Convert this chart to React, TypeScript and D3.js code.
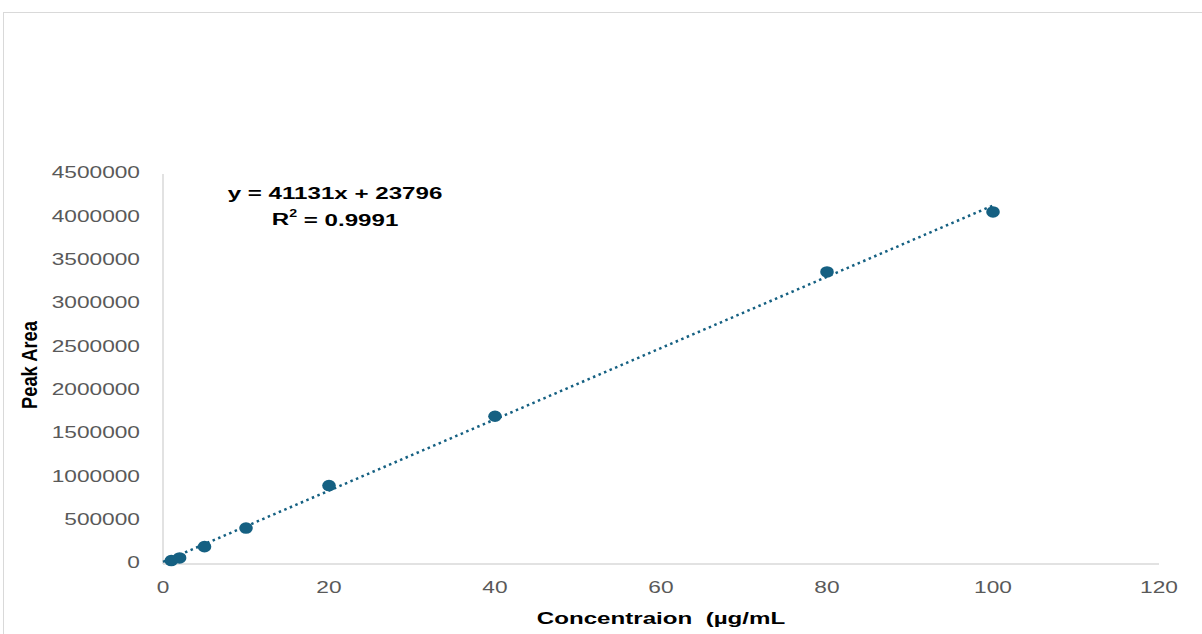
import React from "react";
import * as d3 from "d3";

const concentrations = [1, 2, 5, 10, 20, 40, 80, 100];
const peakAreas = [40000, 70000, 200000, 415000, 905000, 1705000, 3370000, 4062000];
const xTicks = [0, 20, 40, 60, 80, 100, 120];
const yTicks = [0, 500000, 1000000, 1500000, 2000000, 2500000, 3000000, 3500000, 4000000, 4500000];
const slope = 41131;
const intercept = 23796;
const equationText = "y = 41131x + 23796";
const r2Value = "0.9991";
const xTitle = "Concentraion  (µg/mL";
const yTitle = "Peak Area";

const W = 1202;
const H = 634;
const SX = 1.42;
const BLUE = "#156082";
const FONT = "'Liberation Sans', Arial, sans-serif";

function S({ x, y, anchor = "middle", size = 16, weight = "normal", fill = "#595959", children }: any) {
  return (
    <g transform={`translate(${x},${y}) scale(${SX},1)`}>
      <text
        textAnchor={anchor}
        dominantBaseline="middle"
        fontSize={size}
        fontWeight={weight}
        fill={fill}
        fontFamily={FONT}
        style={{ whiteSpace: "pre" }}
      >
        {children}
      </text>
    </g>
  );
}

export default function App() {
  const x = d3.scaleLinear().domain([0, 120]).range([163, 1159]);
  const y = d3.scaleLinear().domain([0, 4500000]).range([564, 174]);
  const line = d3
    .line<number>()
    .x((d) => x(d))
    .y((d) => y(slope * d + intercept));
  const trend = line([0, 100]) || "";

  return (
    <svg width={W} height={H} style={{ position: "absolute", left: 0, top: 0, background: "#fff" }}>
      <rect x={3.5} y={12.5} width={W + 10} height={H + 10} fill="#fff" stroke="#d9d9d9" strokeWidth={1} />
      <line x1={x(0)} x2={x(0)} y1={y(4500000)} y2={y(0)} stroke="#d9d9d9" strokeWidth={1.5} />
      <line x1={x(0)} x2={x(120)} y1={y(0)} y2={y(0)} stroke="#d9d9d9" strokeWidth={1.5} />
      {yTicks.map((t) => (
        <S key={t} x={140} y={y(t)} anchor="end" size={16}>
          {String(t)}
        </S>
      ))}
      {xTicks.map((t) => (
        <S key={t} x={x(t)} y={589} size={16}>
          {String(t)}
        </S>
      ))}
      <path d={trend} fill="none" stroke={BLUE} strokeWidth={2.5} strokeDasharray="2.5,3.5" />
      {concentrations.map((c, i) => (
        <ellipse key={c} cx={x(c)} cy={y(peakAreas[i])} rx={6.8} ry={5.8} fill={BLUE} />
      ))}
      <S x={335} y={195} size={17} weight="bold" fill="#000">
        {equationText}
      </S>
      <S x={335} y={221} size={17} weight="bold" fill="#000">
        R<tspan fontSize={10} dy={-6}>2</tspan>
        <tspan dy={6}>{" = " + r2Value}</tspan>
      </S>
      <S x={661} y={620} size={17} weight="bold" fill="#000">
        {xTitle}
      </S>
      <g transform={`translate(31,365) rotate(-90) scale(1,${SX})`}>
        <text
          textAnchor="middle"
          dominantBaseline="middle"
          fontSize={16}
          fontWeight="bold"
          fill="#000"
          fontFamily={FONT}
          textLength={88}
          lengthAdjust="spacingAndGlyphs"
        >
          {yTitle}
        </text>
      </g>
    </svg>
  );
}
